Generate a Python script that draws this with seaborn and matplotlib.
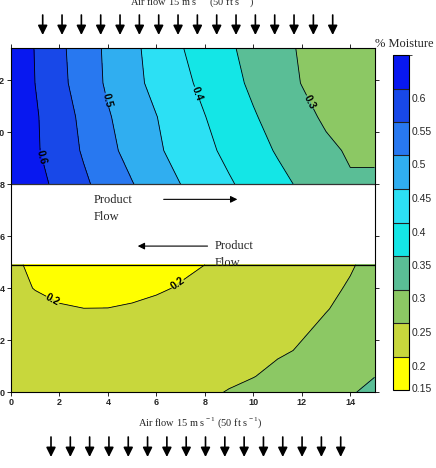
import matplotlib
matplotlib.use("Agg")
import matplotlib.pyplot as plt
import matplotlib.transforms as mtransforms
from matplotlib.cm import ScalarMappable
from matplotlib.colors import BoundaryNorm, ListedColormap
import numpy as np
import seaborn as sns

# moisture bands and their fill colours (bottom band first)
LEVELS = [0.15, 0.20, 0.25, 0.30, 0.35, 0.40, 0.45, 0.50, 0.55, 0.60, 0.65]
LEVEL_COLORS = ["#ffff00", "#c8d73c", "#8cc864", "#5abe96", "#14e6e6",
                "#2ce0f4", "#30aef0", "#2878f0", "#1848e8", "#0818f0"]
CBAR_TICKS = LEVELS[:-1]

# moisture at x = 0..15 m, upper conveyor band
GRID_X = list(range(16))
UPPER_Y = [8.0, 9.3, 10.6, 11.9, 13.25]
UPPER_MOISTURE = [
    [0.646, 0.617, 0.587, 0.558, 0.530, 0.502, 0.476, 0.450,
     0.427, 0.405, 0.384, 0.363, 0.343, 0.325, 0.305, 0.307],
    [0.636, 0.606, 0.576, 0.545, 0.512, 0.484, 0.457, 0.434,
     0.411, 0.389, 0.367, 0.346, 0.3275, 0.309, 0.295, 0.293],
    [0.638, 0.605, 0.572, 0.539, 0.504, 0.477, 0.451, 0.426,
     0.401, 0.377, 0.354, 0.333, 0.313, 0.293, 0.285, 0.280],
    [0.636, 0.5996, 0.563, 0.527, 0.493, 0.4635, 0.437, 0.4126,
     0.3885, 0.3644, 0.3415, 0.320, 0.2988, 0.287, 0.277, 0.271],
    [0.636, 0.598, 0.560, 0.524, 0.491, 0.461, 0.431, 0.403,
     0.379, 0.356, 0.335, 0.315, 0.295, 0.280, 0.270, 0.262],
]

# lower conveyor band
LOWER_Y = [0.0, 0.6, 1.6, 3.2, 4.0, 4.9]
LOWER_MOISTURE = [
    [0.215, 0.214, 0.214, 0.215, 0.217, 0.221, 0.226, 0.234,
     0.243, 0.252, 0.261, 0.270, 0.279, 0.288, 0.297, 0.308],
    [0.213, 0.212, 0.211, 0.212, 0.214, 0.217, 0.222, 0.229,
     0.236, 0.2425, 0.249, 0.259, 0.269, 0.279, 0.289, 0.2995],
    [0.212, 0.210, 0.209, 0.209, 0.210, 0.212, 0.216, 0.221,
     0.227, 0.232, 0.2385, 0.2455, 0.2525, 0.260, 0.268, 0.276],
    [0.207, 0.204, 0.2015, 0.2002, 0.2003, 0.202, 0.205, 0.209,
     0.214, 0.221, 0.228, 0.235, 0.242, 0.249, 0.256, 0.263],
    [0.204, 0.1995, 0.196, 0.194, 0.194, 0.195, 0.1975, 0.2015,
     0.208, 0.2155, 0.223, 0.2305, 0.238, 0.2451, 0.2522, 0.2594],
    [0.203, 0.197, 0.193, 0.190, 0.190, 0.191, 0.193, 0.196,
     0.200, 0.2065, 0.2145, 0.2225, 0.232, 0.240, 0.248, 0.257],
]

X_TICKS = [0, 2, 4, 6, 8, 10, 12, 14]
Y_TICKS = [0, 2, 4, 6, 8, 10, 12]

AIRFLOW = r"Air flow 15 m s$^{\rm -1}$ (50 ft s$^{\rm -1}$)"

sns.set_style("ticks")
plt.rcParams["font.family"] = ["Liberation Serif", "DejaVu Serif"]
plt.rcParams["mathtext.fontset"] = "custom"
plt.rcParams["mathtext.rm"] = "Liberation Serif"

W, H = 436, 468
fig = plt.figure(figsize=(W / 100, H / 100), dpi=100)
ax = fig.add_axes([11 / W, 76 / H, 363.5 / W, 344 / H])

for ys, zs in [(UPPER_Y, UPPER_MOISTURE), (LOWER_Y, LOWER_MOISTURE)]:
    ax.contourf(GRID_X, ys, np.array(zs), levels=LEVELS, colors=LEVEL_COLORS)

cs_up = ax.contour(GRID_X, UPPER_Y, np.array(UPPER_MOISTURE), levels=LEVELS,
                   colors="black", linewidths=0.6)
cs_lo = ax.contour(GRID_X, LOWER_Y, np.array(LOWER_MOISTURE), levels=LEVELS,
                   colors="black", linewidths=0.6)
labels = ax.clabel(cs_up, fmt="%g", fontsize=7.5, inline=True, inline_spacing=1,
                   manual=[(1.28, 9.04), (3.88, 11.23), (7.48, 11.42), (12.4, 11.2)])
labels += ax.clabel(cs_lo, fmt="%g", fontsize=7.5, inline=True, inline_spacing=1,
                    manual=[(1.69, 3.5), (6.86, 4.19)])
for t in labels:
    t.set_fontfamily("Liberation Sans")
    t.set_fontweight("bold")

ax.axhline(8.0, color="#333333", lw=0.9)
ax.axhline(4.9, color="black", lw=0.9)

# product flow directions in the white gap between the bands
ax.text(3.42, 7.38, "Product", fontsize=9, va="center", ha="left")
ax.text(3.42, 6.73, "Flow", fontsize=9, va="center", ha="left")
ax.annotate("", xy=(9.34, 7.42), xytext=(6.3, 7.42),
            arrowprops=dict(arrowstyle="-|>", color="black", lw=0.8,
                            mutation_scale=10, shrinkA=0, shrinkB=0))
ax.text(8.4, 5.62, "Product", fontsize=9, va="center", ha="left")
ax.text(8.4, 4.96, "Flow", fontsize=9, va="center", ha="left")
ax.annotate("", xy=(5.23, 5.62), xytext=(8.11, 5.62),
            arrowprops=dict(arrowstyle="-|>", color="black", lw=0.8,
                            mutation_scale=10, shrinkA=0, shrinkB=0))

ax.set_xlim(0, 15)
ax.set_ylim(0, 13.25)
ax.set_xticks(X_TICKS)
ax.set_yticks(Y_TICKS)
ax.tick_params(direction="out", length=3, width=0.7, top=True, right=True,
               labeltop=False, labelright=False, labelsize=6.5, pad=1.5)
for lab in ax.get_xticklabels() + ax.get_yticklabels():
    lab.set_fontfamily("Liberation Sans")
    lab.set_fontweight("bold")
for sp in ax.spines.values():
    sp.set_color("black")
    sp.set_linewidth(0.8)

# colour key
cax = fig.add_axes([393 / W, 78 / H, 16 / W, 335 / H])
sm = ScalarMappable(norm=BoundaryNorm(LEVELS, len(LEVEL_COLORS)),
                    cmap=ListedColormap(LEVEL_COLORS))
cb = fig.colorbar(sm, cax=cax, ticks=CBAR_TICKS, drawedges=True)
cb.outline.set_edgecolor("black")
cb.outline.set_linewidth(0.8)
cb.dividers.set_color("#222222")
cb.dividers.set_linewidth(0.8)
cax.set_yticklabels([f"{v:g}" for v in CBAR_TICKS])
cax.tick_params(length=0, labelsize=7.5, pad=2)
for v, lab in zip(CBAR_TICKS, cax.get_yticklabels()):
    lab.set_fontfamily("Liberation Sans")
    dy = 0.02 if v == CBAR_TICKS[0] else -0.09
    lab.set_transform(lab.get_transform()
                      + mtransforms.ScaledTranslation(0, dy, fig.dpi_scale_trans))
fig.text(404 / W, 1 - 44 / H, "% Moisture", fontsize=9, ha="center", va="center")

# air flow across the belts
fig.text(192 / W, 1 - 5 / H, AIRFLOW, fontsize=7.5, ha="center", va="baseline")
fig.text(200 / W, 45 / H, AIRFLOW, fontsize=7.5, ha="center", va="center")
arrow_kw = dict(arrowstyle="-|>", color="black", lw=1.2, mutation_scale=14,
                shrinkA=0, shrinkB=0)
for x in np.linspace(42.7, 332.7, 16):
    ax.annotate("", xy=(x, H - 35), xytext=(x, H - 15), xycoords="figure pixels",
                textcoords="figure pixels", arrowprops=arrow_kw,
                annotation_clip=False)
for x in np.linspace(51, 340.7, 16):
    ax.annotate("", xy=(x, H - 457), xytext=(x, H - 437), xycoords="figure pixels",
                textcoords="figure pixels", arrowprops=arrow_kw,
                annotation_clip=False)

fig.savefig("out.png", dpi=100)
